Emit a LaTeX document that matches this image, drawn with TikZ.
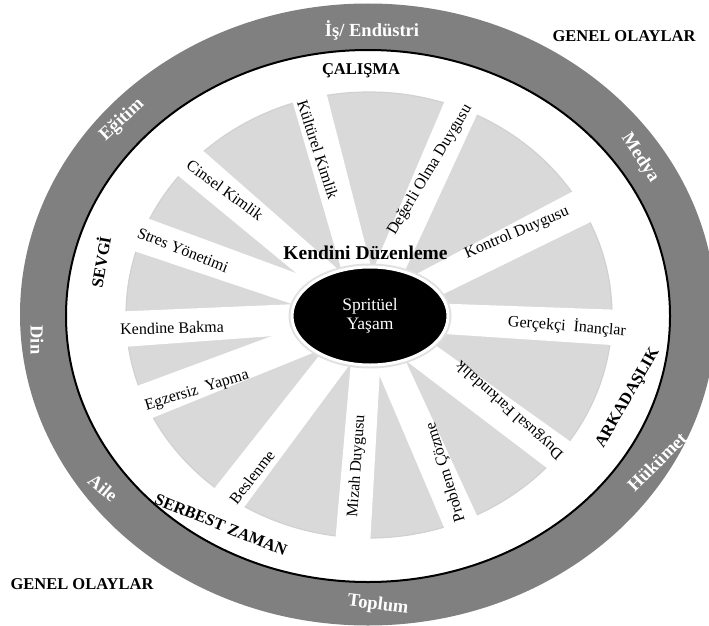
\documentclass[tikz,border=0pt]{standalone}
\usepackage{fontspec}
\setmainfont{Liberation Serif}
\usetikzlibrary{calc,shapes.geometric}
\definecolor{ringgray}{RGB}{128,128,128}
\definecolor{wedgegray}{RGB}{217,217,217}
\tikzset{
  lbl/.style={font=\fontsize{16}{18}\selectfont, inner sep=0pt},
  ringlbl/.style={font=\bfseries\fontsize{18.5}{20}\selectfont, text=white, inner sep=0pt},
  catlbl/.style={font=\bfseries\fontsize{16.5}{18}\selectfont, inner sep=0pt},
  corebox/.style={ellipse, fill=black, draw=white, line width=3pt, text=white, align=center,
    minimum width=156pt, minimum height=98pt, inner sep=0pt,
    font=\fontsize{17.5}{18.5}\selectfont},
}
\begin{document}
\begin{tikzpicture}[x=1pt,y=1pt]
\useasboundingbox (0,0) rectangle (709,-626);
\clip (0,0) rectangle (709,-626);
\coordinate (C) at (369,-315);
\coordinate (R) at (368,-316);
% outer ring
\fill[ringgray, even odd rule] (368,-314.5) ellipse [x radius=348, y radius=311]
      (R) ellipse [x radius=302, y radius=266];
\draw[line width=2pt] (R) ellipse [x radius=302, y radius=266];
% wedges
\fill[wedgegray, draw=black!18, line width=1.2pt] (C) ellipse [x radius=243, y radius=223];
\foreach \a in {105.3,66.1,27,-2.9,-36.4,-66.1,-94.1,-127.4,-158.8,-176.7,160.6,139.6} {
  \fill[white] ($(C)+(\a+90:14)$) -- ($(C)+(\a:262)+(\a+90:18)$)
     -- ($(C)+(\a:262)+(\a-90:18)$) -- ($(C)+(\a-90:14)$) -- cycle;
}
% core
\fill[black!12] (370,-316) ellipse [x radius=81.5, y radius=52.5];
\node[corebox] (core) at (370,-316) {Spritüel\\Yaşam};
% spoke labels
\node[lbl, rotate=-72]  (kk) at (318,-150) {Kültürel Kimlik};
\node[lbl, rotate=59]   (do) at (430,-170) {Değerli Olma Duygusu};
\node[lbl, rotate=23]   (kd) at (517,-233) {Kontrol Duygusu};
\node[lbl, rotate=-4.5] (gi) at (567,-326) {Gerçekçi\ \ İnançlar};
\node[lbl, rotate=138]  (df) at (510,-410) {Duygusal Farkındalık};
\node[lbl, rotate=107]  (pc) at (446,-472) {Problem Çözme};
\node[lbl, rotate=86]   (md) at (357,-466) {Mizah Duygusu};
\node[lbl, rotate=52]   (bs) at (252,-477) {Beslenme};
\node[lbl, rotate=17]   (ey) at (197,-391) {Egzersiz\ \ Yapma};
\node[lbl, rotate=1.5]  (kb) at (172,-328) {Kendine Bakma};
\node[lbl, rotate=-21.7] (sy) at (183,-250) {Stres Yönetimi};
\node[lbl, rotate=-36]  (ck) at (225,-190) {Cinsel Kimlik};
% centre title
\node[font=\bfseries\fontsize{19.5}{21}\selectfont, inner sep=0pt] (kdz) at (365.5,-253) {Kendini Düzenleme};
% categories
\node[catlbl] (cal) at (361,-71) {ÇALIŞMA};
\node[catlbl, rotate=80] (sev) at (100,-262) {SEVGİ};
\node[catlbl, rotate=60] (ark) at (628,-398) {ARKADAŞLIK};
\node[catlbl, rotate=-22] (ser) at (221,-525) {SERBEST ZAMAN};
\node[catlbl] (go1) at (624,-36) {GENEL OLAYLAR};
\node[catlbl] (go2) at (82,-584) {GENEL OLAYLAR};
% ring labels
\node[ringlbl] (is) at (372,-30) {İş/ Endüstri};
\node[ringlbl, rotate=43] (eg) at (122,-120) {Eğitim};
\node[ringlbl, rotate=-57] (me) at (640,-158) {Medya};
\node[ringlbl, rotate=-90] (di) at (37,-340) {Din};
\node[ringlbl, rotate=-40] (ai) at (103,-488) {Aile};
\node[ringlbl, rotate=45] (hu) at (657,-462) {Hükümet};
\node[ringlbl, rotate=-7] (to) at (378,-605) {Toplum};
\end{tikzpicture}
\end{document}
